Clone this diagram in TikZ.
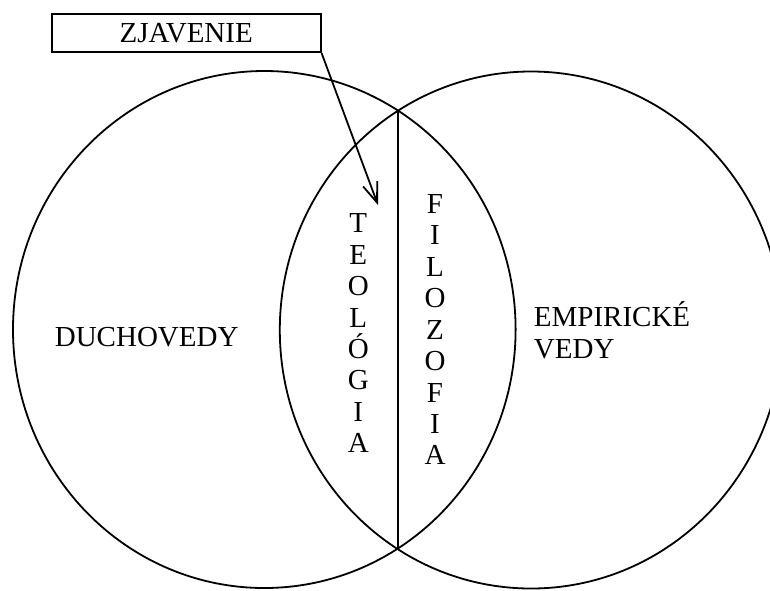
\documentclass[tikz,border=0pt]{standalone}
\usepackage{fontspec}
\setmainfont{Liberation Serif}
\usetikzlibrary{arrows.meta,intersections}
\begin{document}
\begin{tikzpicture}[x=1pt,y=-1pt,
  line width=1.8pt,
  lbl/.style={inner sep=0pt,font=\fontsize{29}{31.6}\selectfont},
  letter/.style={lbl,anchor=base},
  box/.style={draw,line width=1.8pt,minimum width=269pt,minimum height=38pt,inner sep=0pt},
  arr/.style={-{Straight Barb[length=20pt,width=15pt,line width=1.8pt]}}]
\useasboundingbox (0,0) rectangle (770,590);
\clip (0,0) rectangle (770,590);
% circles
\draw[name path=L] (264.3,329.5) ellipse [x radius=251.3, y radius=258.5];
\draw[name path=R] (531.1,330) ellipse [x radius=251.3, y radius=258.5];
\coordinate (top) at (397.7,111.7);
\coordinate (bot) at (397.7,550);
\draw (top) -- (bot);
% box and arrow
\node[box,lbl] (zj) at (186.2,33.2) {ZJAVENIE};
\coordinate (tip) at (378,205);
\draw[arr] (zj.south east) -- (tip);
% labels
\node[lbl,anchor=base] (duch) at (146.7,346.7) {DUCHOVEDY};
\node[lbl,anchor=base west,align=left] (emp) at (533,358.3) {EMPIRICKÉ\\VEDY};
% vertical words
\foreach \c [count=\i] in {T,E,O,L,Ó,G,I,A}
  \node[letter] (t\i) at (358.3,{232.7+31.43*(\i-1)}) {\c};
\foreach \c [count=\i] in {F,I,L,O,Z,O,F,I,A}
  \node[letter] (f\i) at (435,{213.3+31.46*(\i-1)}) {\c};
\end{tikzpicture}
\end{document}
